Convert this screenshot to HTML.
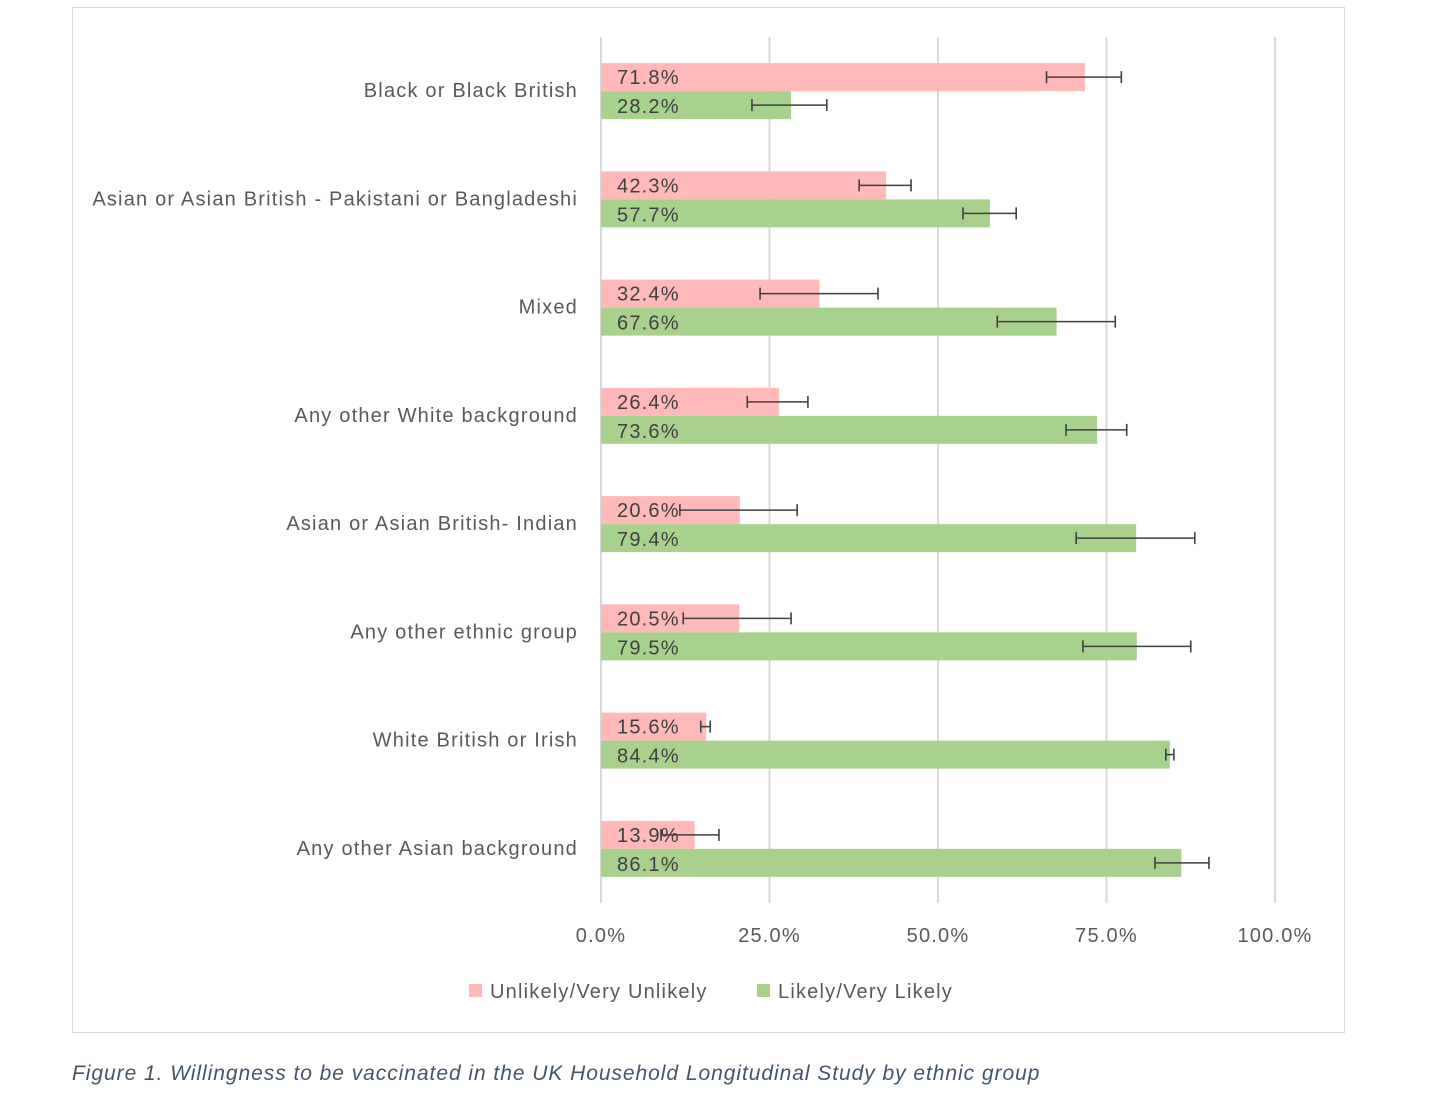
<!DOCTYPE html>
<html><head><meta charset="utf-8"><style>
body{margin:0;background:#fff;width:1456px;height:1113px;overflow:hidden;font-family:"Liberation Sans",sans-serif;}
#frame{position:absolute;left:72px;top:7px;width:1271px;height:1024px;border:1.5px solid #d9d9d9;}
#cap{position:absolute;left:72px;top:1062px;font-style:italic;font-size:21px;color:#44546a;letter-spacing:0.95px;}
svg text{letter-spacing:1.2px;}
</style></head><body>
<div id="frame"></div>
<svg id="chart" width="1456" height="1113" style="position:absolute;left:0;top:0"></svg>
<div id="cap">Figure 1. Willingness to be vaccinated in the UK Household Longitudinal Study by ethnic group</div>
<script>
const categories=["Black or Black British","Asian or Asian British - Pakistani or Bangladeshi","Mixed","Any other White background","Asian or Asian British- Indian","Any other ethnic group","White British or Irish","Any other Asian background"];
const unlikely=[71.8,42.3,32.4,26.4,20.6,20.5,15.6,13.9];
const likely=[28.2,57.7,67.6,73.6,79.4,79.5,84.4,86.1];
const unlikelyLo=[66.1,38.3,23.6,21.7,11.7,12.2,14.8,8.9];
const unlikelyHi=[77.2,46.0,41.1,30.7,29.1,28.2,16.2,17.5];
const likelyLo=[22.4,53.7,58.8,69.0,70.5,71.5,83.8,82.2];
const likelyHi=[33.5,61.6,76.3,78.0,88.1,87.5,85.0,90.2];
const ticks=[0,25,50,75,100];
const tickLabels=["0.0%","25.0%","50.0%","75.0%","100.0%"];
const svg=document.getElementById('chart');const NS="http://www.w3.org/2000/svg";
const x=v=>601+v*6.74;const top0=37,band=108.25;const yc=i=>top0+band*(i+0.5);
function mk(t,a,p){const e=document.createElementNS(NS,t);for(const k in a)e.setAttribute(k,a[k]);(p||svg).appendChild(e);return e;}
ticks.forEach((t,i)=>{
 const g=mk('line',{x1:x(t),x2:x(t),y1:37,y2:903,stroke:'#d9d9d9','stroke-width':2});
 
 
 const l=mk('text',{x:x(t),y:942,'text-anchor':'middle','font-size':20,fill:'#595959'});l.textContent=tickLabels[i];
 
 
});
function eb(lo,hi,y){
 const g=mk('g',{stroke:'#404040','stroke-width':1.6});
 
 
 mk('line',{x1:x(lo),x2:x(hi),y1:y,y2:y},g);
 mk('line',{x1:x(lo),x2:x(lo),y1:y-6,y2:y+6},g);
 mk('line',{x1:x(hi),x2:x(hi),y1:y-6,y2:y+6},g);
}
categories.forEach((c,i)=>{
 const y=yc(i);
 const lab=mk('text',{x:578,y:y+6,'text-anchor':'end','font-size':20,fill:'#595959'});lab.textContent=c;
 
 
 const b1=mk('rect',{x:x(0),y:y-28,width:x(unlikely[i])-x(0),height:28,fill:'#ffb9b9'});
 
 
 const b2=mk('rect',{x:x(0),y:y,width:x(likely[i])-x(0),height:28,fill:'#a9d18e'});
 
 
 const t1=mk('text',{x:617,y:y-7,'font-size':20,fill:'#404040'});t1.textContent=unlikely[i].toFixed(1)+'%';
 
 
 const t2=mk('text',{x:617,y:y+22,'font-size':20,fill:'#404040'});t2.textContent=likely[i].toFixed(1)+'%';
 
 
 eb(unlikelyLo[i],unlikelyHi[i],y-14);eb(likelyLo[i],likelyHi[i],y+14);
});
const leg=[["Unlikely/Very Unlikely",'#ffb9b9',469],["Likely/Very Likely",'#a9d18e',757]];
leg.forEach(l=>{
 const s=mk('rect',{x:l[2],y:984,width:13,height:13,fill:l[1]});
 
 
 const t=mk('text',{x:l[2]+21,y:998,'font-size':20,fill:'#595959'});t.textContent=l[0];
 
 
});
</script>
</body></html>
